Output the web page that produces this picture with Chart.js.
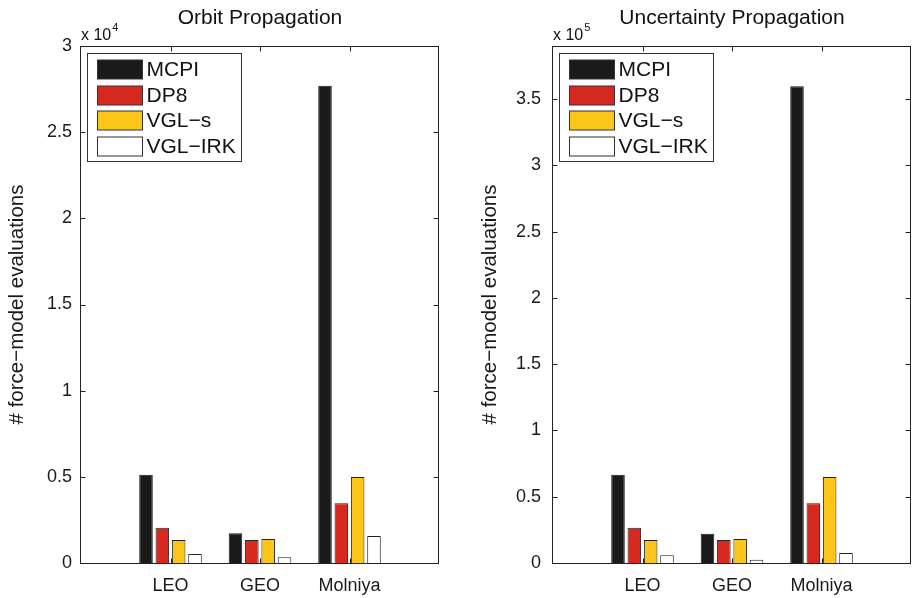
<!DOCTYPE html>
<html>
<head>
<meta charset="utf-8">
<script src="https://cdn.jsdelivr.net/npm/chart.js@4.4.1/dist/chart.umd.min.js"></script>
<style>
  html, body { margin: 0; padding: 0; background: #fff; }
  #wrap { position: relative; width: 912px; height: 598px; }
  canvas { position: absolute; top: 0; }
</style>
</head>
<body>
<div id="wrap">
  <canvas id="orbit" width="456" height="598" style="left:0"></canvas>
  <canvas id="unc" width="456" height="598" style="left:456px"></canvas>
</div>
<script>
const categories = ["LEO", "GEO", "Molniya"];
const methods = ["MCPI", "DP8", "VGL−s", "VGL−IRK"];
const colors = ["#1a1a1a", "#d8291f", "#fbc618", "#ffffff"];

// orbit propagation (raw evaluation counts)
const orbitMCPI = [5120, 1720, 27700];
const orbitDP8 = [2050, 1330, 3460];
const orbitVGLs = [1335, 1390, 4990];
const orbitVGLirk = [520, 330, 1570];
const orbitTicks = [0, 0.5, 1, 1.5, 2, 2.5, 3]; // x 10^4

// uncertainty propagation
const uncMCPI = [66600, 22100, 359700];
const uncDP8 = [26600, 17300, 45000];
const uncVGLs = [17300, 18100, 64900];
const uncVGLirk = [5800, 2500, 7500];
const uncTicks = [0, 0.5, 1, 1.5, 2, 2.5, 3, 3.5]; // x 10^5

const FONT = "'Liberation Sans', Arial, Helvetica, sans-serif";
Chart.defaults.font.family = FONT;
Chart.defaults.color = "#1a1a1a";

// matlab style box, inward ticks, legend, title and exponent
const matlabPlugin = {
  id: "matlab",
  afterDatasetsDraw(chart, args, opts) {
    const { ctx, chartArea: a, scales: { x, y } } = chart;
    ctx.save();
    ctx.strokeStyle = "#222";
    ctx.lineWidth = 1;
    const L = Math.round(a.left) - 0.5, R = Math.round(a.right) - 0.5;
    const T = Math.round(a.top) + 0.5, B = Math.round(a.bottom) + 0.5;
    ctx.strokeRect(L, T, R - L, B - T);
    ctx.beginPath();
    y.ticks.forEach(t => {
      const py = Math.round(y.getPixelForValue(t.value)) + 0.5;
      ctx.moveTo(L, py); ctx.lineTo(L + 5, py);
      ctx.moveTo(R, py); ctx.lineTo(R - 5, py);
    });
    x.ticks.forEach(t => {
      const px = Math.round(x.getPixelForValue(t.value)) + 0.5;
      ctx.moveTo(px, T); ctx.lineTo(px, T + 5);
      ctx.moveTo(px, B); ctx.lineTo(px, B - 5);
    });
    ctx.stroke();

    // legend
    const bx = Math.round(a.left) + 6.5, by = Math.round(a.top) + 7.5, bw = 154, bh = 108;
    ctx.fillStyle = "#fff";
    ctx.fillRect(bx, by, bw, bh);
    ctx.strokeStyle = "#333";
    ctx.strokeRect(bx, by, bw, bh);
    ctx.font = "21px " + FONT;
    ctx.textBaseline = "middle";
    ctx.textAlign = "left";
    chart.data.datasets.forEach((ds, i) => {
      const cy = by + 16 + i * 25.5;
      ctx.fillStyle = ds.backgroundColor;
      ctx.fillRect(bx + 10, Math.round(cy - 9.5), 45, 19);
      ctx.strokeStyle = "#333";
      ctx.strokeRect(bx + 10, Math.round(cy - 9.5), 45, 19);
      ctx.fillStyle = "#111";
      ctx.fillText(ds.label, bx + 59, cy + 1);
    });

    // title
    ctx.textAlign = "center";
    ctx.fillText(opts.title, (a.left + a.right) / 2, 18);

    // exponent
    ctx.textAlign = "left";
    ctx.textBaseline = "alphabetic";
    ctx.font = "16px " + FONT;
    ctx.fillText("x 10", a.left, 40);
    const w = ctx.measureText("x 10").width;
    ctx.font = "11px " + FONT;
    ctx.fillText(String(opts.exp), a.left + w + 1, 31);
    ctx.restore();
  }
};

function makeChart(id, title, exp, series, tickList, yMax, axisWidth, padRight, titlePad, tickPad) {
  const scaleFactor = Math.pow(10, exp);
  return new Chart(document.getElementById(id), {
    type: "bar",
    data: {
      datasets: methods.map((m, i) => ({
        label: m,
        data: categories.map((c, j) => ({ x: j + 1, y: series[i][j] })),
        backgroundColor: colors[i],
        borderColor: i === 0 ? colors[0] : "#222",
        borderWidth: 1,
        categoryPercentage: 0.73,
        barPercentage: 0.83
      }))
    },
    options: {
      responsive: false,
      animation: false,
      layout: { padding: { left: 0, right: padRight, top: 46, bottom: 0 } },
      plugins: {
        legend: { display: false },
        title: { display: false },
        tooltip: { enabled: false },
        matlab: { title: title, exp: exp }
      },
      scales: {
        x: {
          type: "linear",
          min: 0,
          max: 4,
          offset: false,
          grid: { display: false, drawTicks: false, offset: false },
          border: { display: false },
          ticks: {
            font: { size: 18 },
            padding: 12,
            callback: v => categories[v - 1] || ""
          },
          afterBuildTicks: s => { s.ticks = categories.map((c, j) => ({ value: j + 1 })); },
          afterFit: s => { s.height = 35; }
        },
        y: {
          min: 0,
          max: yMax,
          grid: { display: false, drawTicks: false },
          border: { display: false },
          ticks: {
            font: { size: 18 },
            padding: tickPad,
            callback: v => String(Math.round(v / scaleFactor * 10) / 10)
          },
          afterBuildTicks: s => { s.ticks = tickList.map(t => ({ value: t * scaleFactor })); },
          afterFit: s => { s.width = axisWidth; },
          title: {
            display: true,
            text: "# force−model evaluations",
            font: { size: 20.5 },
            padding: { top: titlePad, bottom: 0 }
          }
        }
      }
    },
    plugins: [matlabPlugin]
  });
}

makeChart("orbit", "Orbit Propagation", 4,
  [orbitMCPI, orbitDP8, orbitVGLs, orbitVGLirk], orbitTicks, 30000, 81, 17, 5.5, 9);
makeChart("unc", "Uncertainty Propagation", 5,
  [uncMCPI, uncDP8, uncVGLs, uncVGLirk], uncTicks, 390000, 97, 1, 22, 12);
</script>
</body>
</html>
